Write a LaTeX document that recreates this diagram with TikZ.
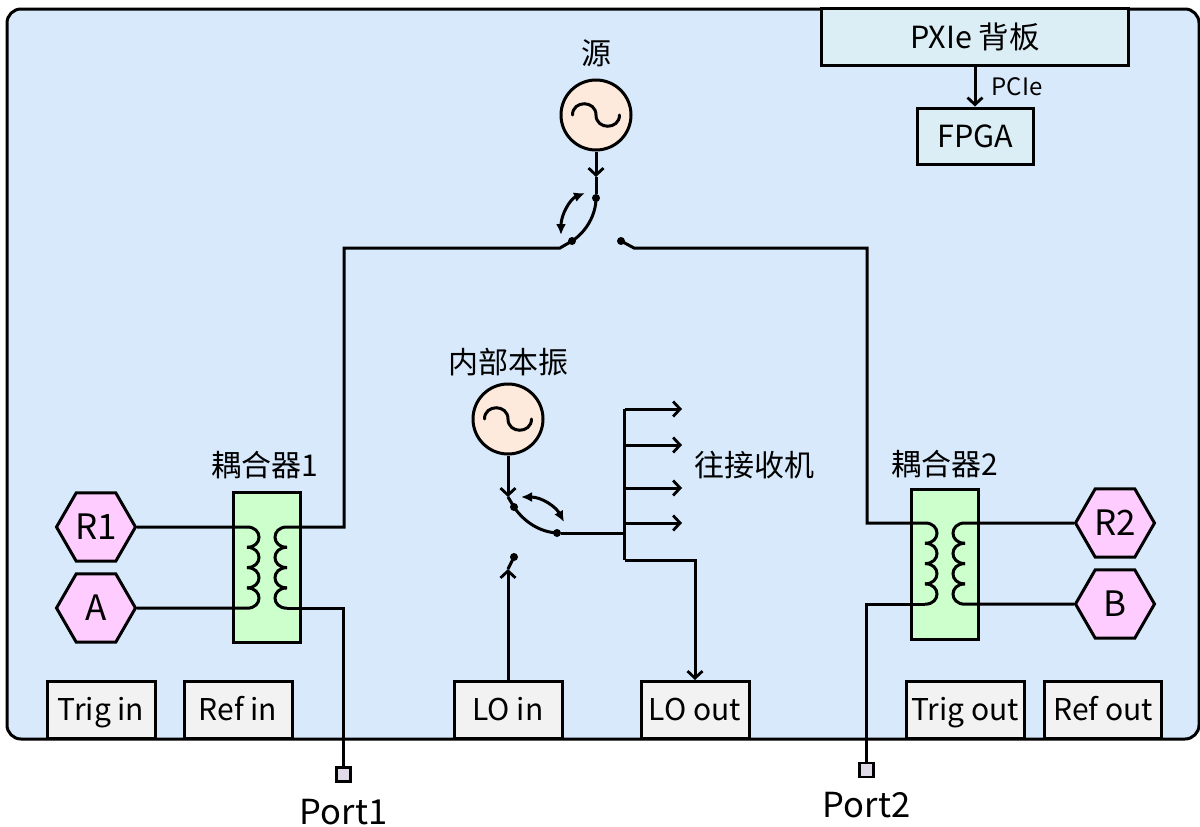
\documentclass[tikz,border=0pt]{standalone}
\usepackage{fontspec}
\setmainfont{Noto Sans CJK SC}
\usetikzlibrary{arrows.meta, positioning, shapes.geometric}
\definecolor{panelblue}{HTML}{D7E9FB}
\definecolor{slotgray}{HTML}{F2F2F2}
\definecolor{pxiecyan}{HTML}{DCEEF5}
\definecolor{coilgreen}{HTML}{CCFFCC}
\definecolor{hexpink}{HTML}{FFCCFF}
\definecolor{oscpeach}{HTML}{FDEADC}
\definecolor{portgray}{HTML}{E1DAE8}
\tikzset{
        x=1pt, y=-1pt,
        wire/.style={line width=3pt, line join=miter},
        feed/.style={wire, -{Straight Barb[length=7pt,width=15pt,line width=2.8pt]}},
        swing/.style={line width=3pt, {Latex[length=11pt,width=10pt]}-{Latex[length=11pt,width=10pt]}},
        label/.style={inner sep=0pt, font=\fontsize{30}{34}\selectfont},
        slot/.style={draw, line width=3pt, fill=slotgray, minimum width=108pt, minimum height=57pt, inner sep=0pt, text height=25pt, text depth=4pt, font=\fontsize{30}{34}\selectfont},
        card/.style={draw, line width=3pt, fill=pxiecyan, inner sep=0pt, font=\fontsize{30.5}{34}\selectfont},
        coupler/.style={draw, line width=3pt, fill=coilgreen, minimum width=67pt, minimum height=150pt, inner sep=0pt},
        receiver/.style={draw, regular polygon, regular polygon sides=6, line width=3pt, fill=hexpink, minimum size=79pt, inner sep=0pt, font=\fontsize{35}{38}\selectfont},
        osc/.style={draw, circle, line width=3pt, fill=oscpeach, minimum size=70pt, inner sep=0pt},
        contact/.style={circle, fill=black, minimum size=8pt, inner sep=0pt},
        port/.style={draw, line width=2.6pt, fill=portgray, minimum size=14pt, inner sep=0pt},
        coil/.pic={
            \foreach \i in {0,1,2,3}
                \draw[line width=3pt] (0,20.3*\i) .. controls (16,20.3*\i) and (16,20.3*\i+20.3) .. (0,20.3*\i+20.3);
        },
        sine/.pic={
            \draw[line width=3pt, line cap=round] (-23.5,0) .. controls (-23.5,-15) and (0,-15) .. (0,0) .. controls (0,15) and (23.5,15) .. (23.5,0);
        },
    }

\begin{document}
\begin{tikzpicture}
    \useasboundingbox (0,0) rectangle (1200,827);
    \draw[line width=3pt, fill=panelblue, rounded corners=14pt] (7,9) rectangle (1199,739);

    % back panel
    \node[card, minimum width=307pt, minimum height=57pt] (pxie) at (975,37) {PXIe 背板};
    \node[card, minimum width=116pt, minimum height=56pt] (fpga) at (975,136) {FPGA};
    \draw[feed] (pxie) -- (fpga) node[pos=0.5, right=15pt, inner sep=0pt, font=\fontsize{24}{26}\selectfont] (pcie) {PCIe};

    % oscillators
    \node[osc] (srcosc) at (596,115) {};
    \node[label, above=11pt of srcosc] (srclabel) {源};
    \pic at (srcosc) {sine};
    \node[osc] (loosc) at (508,419) {};
    \node[label, above=6pt of loosc] (lolabel) {内部本振};
    \pic at (loosc) {sine};

    % bottom connectors
    \node[slot] (trigin) at (101,710) {Trig in};
    \node[slot] (refin) at (238,710) {Ref in};
    \node[slot] (loin) at (508,710) {LO in};
    \node[slot] (loout) at (695,710) {LO out};
    \node[slot, minimum width=118pt] (trigout) at (965,710) {Trig out};
    \node[slot, minimum width=117pt] (refout) at (1103,710) {Ref out};

    % couplers
    \node[coupler] (cplA) at (266.5,567.5) {};
    \node[label, above=12pt of cplA, xshift=-2pt] (cplAlabel) {耦合器1};
    \node[coupler] (cplB) at (945,564) {};
    \node[label, above=9pt of cplB] (cplBlabel) {耦合器2};
    \pic at (247,527) {coil};
    \pic[xscale=-1] at (287,527) {coil};
    \pic at (925,523) {coil};
    \pic[xscale=-1] at (965,523) {coil};
    \coordinate (cplAlt) at (247,527);
    \coordinate (cplAlb) at (247,608);
    \coordinate (cplArt) at (287,527);
    \coordinate (cplArb) at (287,608);
    \coordinate (cplBlt) at (925,523);
    \coordinate (cplBlb) at (925,604);
    \coordinate (cplBrt) at (965,523);
    \coordinate (cplBrb) at (965,604);

    % receivers
    \node[receiver] (rone) at (96,527) {R1};
    \node[receiver] (rA) at (96,608) {A};
    \node[receiver] (rtwo) at (1115,523) {R2};
    \node[receiver] (rB) at (1115,604) {B};
    \draw[wire] (rone) -- (cplAlt);
    \draw[wire] (rA) -- (cplAlb);
    \draw[wire] (rtwo) -- (cplBrt);
    \draw[wire] (rB) -- (cplBrb);

    % ports
    \node[port] (portA) at (343.5,774.5) {};
    \node[port] (portB) at (866.5,770) {};
    \node[inner sep=0pt, font=\fontsize{34.5}{38}\selectfont, below=16pt of portA] (portAlabel) {Port1};
    \node[inner sep=0pt, font=\fontsize{34.5}{38}\selectfont, below=14pt of portB] (portBlabel) {Port2};
    \draw[wire] (cplArb) -| (portA);
    \draw[wire] (cplBlb) -| (portB);

    % source switch
    \node[contact] (swa) at (596,198) {};
    \node[contact] (swb) at (572,241) {};
    \node[contact] (swc) at (621,241) {};
    \coordinate (swbout) at (560,248);
    \coordinate (swcout) at (634,248);
    \coordinate (feedend) at (596,177);
    \coordinate (benda) at (344,248);
    \coordinate (bendb) at (867,248);
    \draw[feed] (srcosc) -- (feedend);
    \draw[wire] (feedend) -- (swa);
    \draw[wire] (swa.center) .. controls (596,215) and (586,232) .. (swb.center) -- (swbout) -- (benda) |- (cplArt);
    \draw[wire] (swc.center) -- (swcout) -- (bendb) |- (cplBlt);
    \coordinate (swingat) at (585,193);
    \coordinate (swingbt) at (561,235);
    \draw[swing] (swingat) .. controls (570,199) and (561,215) .. (swingbt);

    % LO switch
    \node[contact] (swd) at (514,507) {};
    \node[contact] (swe) at (557,533) {};
    \node[contact] (swf) at (514,557) {};
    \coordinate (lofeedend) at (508,497);
    \coordinate (loinend) at (508,569);
    \draw[feed] (loosc) -- (lofeedend);
    \draw[wire] (lofeedend) -- (swd.center) .. controls (524,522) and (540,532) .. (swe.center);
    \draw[feed] (loin) -- (loinend);
    \draw[wire] (loinend) -- (swf.center);
    \coordinate (swingcs) at (521,497);
    \coordinate (swingds) at (564,522);
    \draw[swing] (swingcs) .. controls (542,497) and (556,507) .. (swingds);

    % receiver fan-out
    \coordinate (bustop) at (624.5,409);
    \coordinate (busjoin) at (624.5,533);
    \coordinate (busend) at (624.5,560);
    \draw[wire] (bustop) -- (busend);
    \draw[feed] (busend) -| (loout);
    \draw[wire] (swe) -- (busjoin);
    \foreach \y/\name in {409/fana,445/fanb,488/fanc,523/fand}{
        \coordinate (\name) at (682,\y);
        \draw[feed] (624.5,\y) -- (\name);
    }
    \node[label] (rxlabel) at (754,465) {往接收机};
\end{tikzpicture}
\end{document}
